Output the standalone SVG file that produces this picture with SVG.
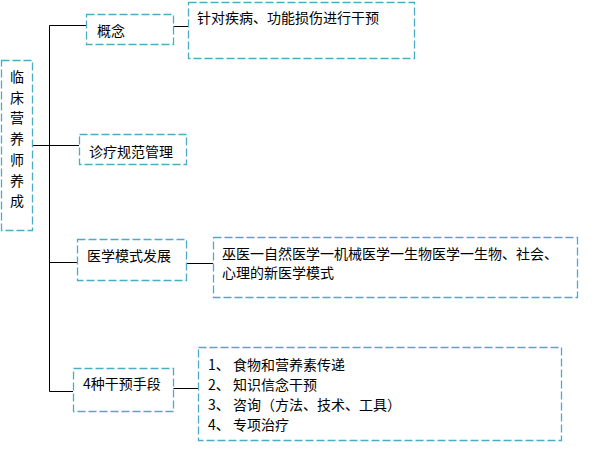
<svg xmlns="http://www.w3.org/2000/svg" width="599" height="469" viewBox="0 0 599 469">
<style>
.box{fill:#fff;stroke:#4bacc6;stroke-width:1.3;stroke-dasharray:8 3}
.t{font-family:"Noto Sans CJK SC","Noto Sans",sans-serif;font-size:14px;fill:#000;dominant-baseline:central}
.c{fill:none;stroke:#000;stroke-width:1}
</style>
<g id="connectors">
<path class="c" d="M32,145.5H79"/>
<path class="c" d="M49.5,25.5V391.5"/>
<path class="c" d="M49.5,25.5H86"/>
<path class="c" d="M49.5,262.5H77"/>
<path class="c" d="M49.5,391.5H73"/>
<path class="c" d="M173,26.5H188"/>
<path class="c" d="M186,263.5H213"/>
<path class="c" d="M173,388.5H198"/>
</g>
<g id="root">
<rect class="box" x="1.5" y="60.5" width="31" height="170"/>
<text class="t" text-anchor="middle">
<tspan x="17" y="76">临</tspan><tspan x="17" y="97">床</tspan><tspan x="17" y="117">营</tspan><tspan x="17" y="138">养</tspan><tspan x="17" y="159">师</tspan><tspan x="17" y="180">养</tspan><tspan x="17" y="200">成</tspan>
</text>
</g>
<g id="n-concept">
<rect class="box" x="86.5" y="14.5" width="87" height="30"/>
<text class="t" x="97" y="30">概念</text>
</g>
<g id="n-concept-detail">
<rect class="box" x="188.5" y="2.5" width="226" height="56"/>
<text class="t" x="197" y="17">针对疾病、功能损伤进行干预</text>
</g>
<g id="n-diag">
<rect class="box" x="79.5" y="134.5" width="107" height="30"/>
<text class="t" x="89" y="151">诊疗规范管理</text>
</g>
<g id="n-model">
<rect class="box" x="77.5" y="239.5" width="109" height="41"/>
<text class="t" x="87" y="255">医学模式发展</text>
</g>
<g id="n-model-detail">
<rect class="box" x="213.5" y="237.5" width="364" height="60"/>
<text class="t" x="222" y="253">巫医一自然医学一机械医学一生物医学一生物、社会、</text>
<text class="t" x="222" y="272">心理的新医学模式</text>
</g>
<g id="n-means">
<rect class="box" x="73.5" y="368.5" width="100" height="43"/>
<text class="t" x="83" y="383">4种干预手段</text>
</g>
<g id="n-means-detail">
<rect class="box" x="198.5" y="347.5" width="363" height="93"/>
<text class="t" x="208" y="364" xml:space="preserve">1、 食物和营养素传递</text>
<text class="t" x="208" y="384" xml:space="preserve">2、 知识信念干预</text>
<text class="t" x="208" y="404" xml:space="preserve">3、 咨询（方法、技术、工具）</text>
<text class="t" x="208" y="424" xml:space="preserve">4、 专项治疗</text>
</g>
</svg>
